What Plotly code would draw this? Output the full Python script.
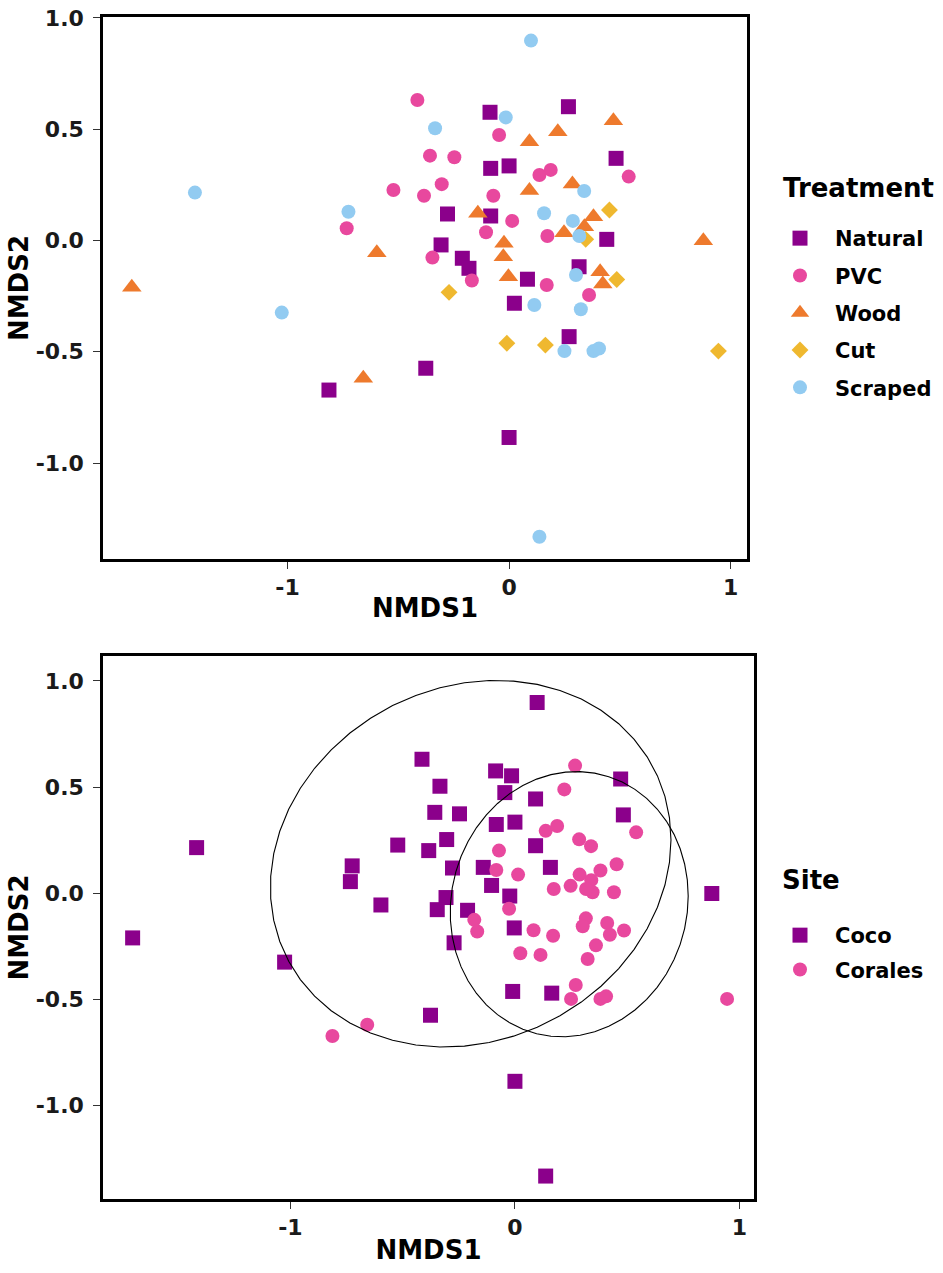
import numpy as np
import plotly.graph_objects as go

# ---------------- data (NMDS scores) ----------------
treatments = ["Natural", "PVC", "Wood", "Cut", "Scraped"]

natural_x = [0.268, -0.086, 0.483, -0.083, 0.000, -0.278, -0.083, 0.441, -0.307, -0.211,
             -0.181, 0.316, 0.083, 0.024, 0.271, -0.376, -0.813, 0.000]
natural_y = [0.601, 0.576, 0.369, 0.324, 0.335, 0.119, 0.110, 0.005, -0.020, -0.080,
             -0.125, -0.118, -0.174, -0.282, -0.432, -0.574, -0.672, -0.885]
natural_site = ["Corales", "Coco", "Coco", "Coco", "Coco", "Coco", "Corales", "Corales", "Coco", "Coco",
                "Corales", "Corales", "Corales", "Corales", "Corales", "Coco", "Corales", "Coco"]

pvc_x = [-0.414, -0.045, -0.357, -0.247, 0.137, 0.188, 0.540, -0.304, -0.522, -0.384,
         -0.071, 0.014, -0.104, 0.173, -0.733, -0.346, -0.168, 0.170, 0.361]
pvc_y = [0.631, 0.474, 0.381, 0.374, 0.294, 0.317, 0.287, 0.253, 0.227, 0.201,
         0.201, 0.088, 0.037, 0.020, 0.055, -0.077, -0.180, -0.200, -0.245]
pvc_site = ["Coco", "Coco", "Coco", "Coco", "Corales", "Corales", "Corales", "Coco", "Coco", "Coco",
            "Corales", "Corales", "Coco", "Corales", "Coco", "Coco", "Corales", "Corales", "Corales"]

wood_x = [0.471, 0.220, 0.092, 0.286, 0.092, -0.141, 0.381, 0.340, 0.248, 0.877,
          -0.023, -0.026, 0.411, -0.003, 0.423, -0.597, -1.703, -0.658]
wood_y = [0.538, 0.489, 0.444, 0.254, 0.224, 0.122, 0.107, 0.062, 0.035, -0.001,
          -0.013, -0.073, -0.140, -0.163, -0.195, -0.055, -0.210, -0.619]
wood_site = ["Coco", "Corales", "Coco", "Corales", "Coco", "Coco", "Corales", "Corales", "Corales", "Coco",
             "Coco", "Corales", "Corales", "Coco", "Corales", "Coco", "Coco", "Corales"]

cut_x = [0.453, 0.346, 0.486, -0.271, -0.010, 0.164, 0.945]
cut_y = [0.137, 0.005, -0.175, -0.233, -0.462, -0.470, -0.497]
cut_site = ["Corales", "Corales", "Corales", "Coco", "Coco", "Coco", "Corales"]

scraped_x = [0.099, -0.015, -0.334, 0.339, -1.418, -0.725, 0.158, 0.288, 0.317, 0.302,
             0.114, 0.324, 0.250, 0.381, 0.406, -1.026, 0.137]
scraped_y = [0.898, 0.553, 0.504, 0.222, 0.215, 0.129, 0.122, 0.088, 0.020, -0.155,
             -0.290, -0.309, -0.497, -0.497, -0.485, -0.324, -1.331]
scraped_site = ["Coco", "Coco", "Coco", "Corales", "Coco", "Coco", "Coco", "Corales", "Corales", "Corales",
                "Corales", "Corales", "Corales", "Corales", "Corales", "Coco", "Coco"]

sites = ["Coco", "Corales"]

x_ticks = [-1, 0, 1]
y_ticks = [-1.0, -0.5, 0.0, 0.5, 1.0]

# ---------------- styles ----------------
treat_color = {"Natural": "#8B008B", "PVC": "#E8489E", "Wood": "#EE7A2D",
               "Cut": "#EFB82F", "Scraped": "#92CBF1"}
treat_symbol = {"Natural": "square", "PVC": "circle", "Wood": "triangle-up",
                "Cut": "diamond", "Scraped": "circle"}
treat_size = {"Natural": 15, "PVC": 14, "Wood": 17, "Cut": 13, "Scraped": 14}
site_color = {"Coco": "#8B008B", "Corales": "#E8489E"}
site_symbol = {"Coco": "square", "Corales": "circle"}
site_size = {"Coco": 15, "Corales": 14}

groups = {
    "Natural": (natural_x, natural_y, natural_site),
    "PVC": (pvc_x, pvc_y, pvc_site),
    "Wood": (wood_x, wood_y, wood_site),
    "Cut": (cut_x, cut_y, cut_site),
    "Scraped": (scraped_x, scraped_y, scraped_site),
}

FONT = "DejaVu Sans, Liberation Sans, Arial, sans-serif"

fig = go.Figure()

# top panel: by treatment
for t in treatments:
    xs, ys, _ = groups[t]
    fig.add_trace(go.Scatter(
        x=xs, y=ys, mode="markers", name=t, legend="legend", legendgroup=t,
        marker=dict(color=treat_color[t], symbol=treat_symbol[t], size=treat_size[t],
                    line=dict(width=0)),
        xaxis="x", yaxis="y"))

# bottom panel: by site
all_x = np.array(sum([groups[t][0] for t in treatments], []))
all_y = np.array(sum([groups[t][1] for t in treatments], []))
all_s = np.array(sum([groups[t][2] for t in treatments], []))


def cov_trob(X, nu=5, maxit=25, tol=0.01):
    """Robust covariance under a multivariate t (as MASS::cov.trob)."""
    n, p = X.shape
    wt = np.ones(n)
    loc = X.mean(axis=0)
    w = np.sqrt(wt)
    Xc = X - loc
    for _ in range(maxit):
        w0 = w
        Xc = X - loc
        U, s, Vt = np.linalg.svd(np.sqrt(w / w.sum())[:, None] * Xc, full_matrices=False)
        wX = Xc @ Vt.T @ np.diag(1.0 / s)
        Q = (wX ** 2).sum(axis=1)
        w = (wt * (nu + p)) / (nu + Q)
        loc = (w[:, None] * X).sum(axis=0) / w.sum()
        if np.all(np.abs(w - w0) < tol):
            break
    A = np.sqrt(w)[:, None] * Xc
    cov = A.T @ A / wt.sum()
    return loc, cov


def stat_ellipse(x, y, level=0.95, segments=51):
    X = np.column_stack([x, y])
    center, shape = cov_trob(X)
    dfd = len(x) - 1
    fq = (dfd / 2.0) * ((1 - level) ** (-2.0 / dfd) - 1)  # F(2, dfd) quantile
    radius = np.sqrt(2 * fq)
    ang = np.arange(segments + 1) * 2 * np.pi / segments
    circ = np.column_stack([np.cos(ang), np.sin(ang)])
    L = np.linalg.cholesky(shape)
    ell = center + radius * (circ @ L.T)
    return ell[:, 0], ell[:, 1]


for s in sites:
    m = all_s == s
    fig.add_trace(go.Scatter(
        x=all_x[m], y=all_y[m], mode="markers", name=s, legend="legend2", legendgroup=s,
        marker=dict(color=site_color[s], symbol=site_symbol[s], size=site_size[s],
                    line=dict(width=0)),
        xaxis="x2", yaxis="y2"))

for s in sites:
    m = all_s == s
    ex, ey = stat_ellipse(all_x[m], all_y[m])
    fig.add_trace(go.Scatter(
        x=ex, y=ey, mode="lines", showlegend=False, hoverinfo="skip",
        line=dict(color="black", width=1.1), xaxis="x2", yaxis="y2"))

# full page figure (the body margin is removed in the page script below)
FW, FH = 943, 1273


def px(x):
    return x / FW


def py(y):
    return 1 - y / FH


axis_common = dict(
    showline=True, linecolor="black", linewidth=2.5, mirror=True,
    ticks="outside", ticklen=7, tickwidth=1.2, tickcolor="#333333",
    showgrid=False, zeroline=False, automargin=False, ticklabeloverflow="allow",
    tickfont=dict(family=FONT, size=22, color="#1a1a1a", weight="bold"),
)
title_font = dict(family=FONT, size=26, color="black", weight="bold")
leg_title_font = dict(family=FONT, size=26, color="black", weight="bold")
leg_font = dict(family=FONT, size=21, color="black", weight="bold")

fig.update_layout(
    width=FW, height=FH,
    margin=dict(l=0, r=0, t=0, b=0, autoexpand=False),
    paper_bgcolor="white", plot_bgcolor="white",
    xaxis=dict(domain=[px(103), px(747)], range=[-1.833, 1.074], anchor="y",
               tickvals=x_ticks, ticktext=[str(v) for v in x_ticks], ticklabelstandoff=0,
               title=dict(text="NMDS1", font=title_font, standoff=0), **axis_common),
    yaxis=dict(domain=[py(559), py(17)], range=[-1.431, 1.004], anchor="x",
               tickvals=y_ticks, ticktext=[f"{v:.1f}" for v in y_ticks], ticklabelstandoff=5,
               title=dict(text="NMDS2", font=title_font, standoff=0), **axis_common),
    xaxis2=dict(domain=[px(103), px(754)], range=[-1.835, 1.065], anchor="y2",
                tickvals=x_ticks, ticktext=[str(v) for v in x_ticks], ticklabelstandoff=0,
                title=dict(text="NMDS1", font=title_font, standoff=2), **axis_common),
    yaxis2=dict(domain=[py(1199), py(656)], range=[-1.439, 1.117], anchor="x2",
                tickvals=y_ticks, ticktext=[f"{v:.1f}" for v in y_ticks], ticklabelstandoff=5,
                title=dict(text="NMDS2", font=title_font, standoff=0), **axis_common),
    legend=dict(x=px(765), y=py(218), xanchor="left", yanchor="top",
                font=leg_font, itemwidth=60, tracegroupgap=7, bgcolor="rgba(0,0,0,0)"),
    legend2=dict(x=px(765), y=py(915), xanchor="left", yanchor="top",
                 font=leg_font, itemwidth=60, tracegroupgap=4, bgcolor="rgba(0,0,0,0)"),
    showlegend=True,
    annotations=[
        dict(text="Treatment", x=px(781), y=py(188), xref="paper", yref="paper",
             xanchor="left", yanchor="middle", showarrow=False, font=leg_title_font),
        dict(text="Site", x=px(780), y=py(880), xref="paper", yref="paper",
             xanchor="left", yanchor="middle", showarrow=False, font=leg_title_font),
    ],
)

fig.write_html("out.html", config={"displayModeBar": False},
               post_script="document.body.style.margin='0px';")
